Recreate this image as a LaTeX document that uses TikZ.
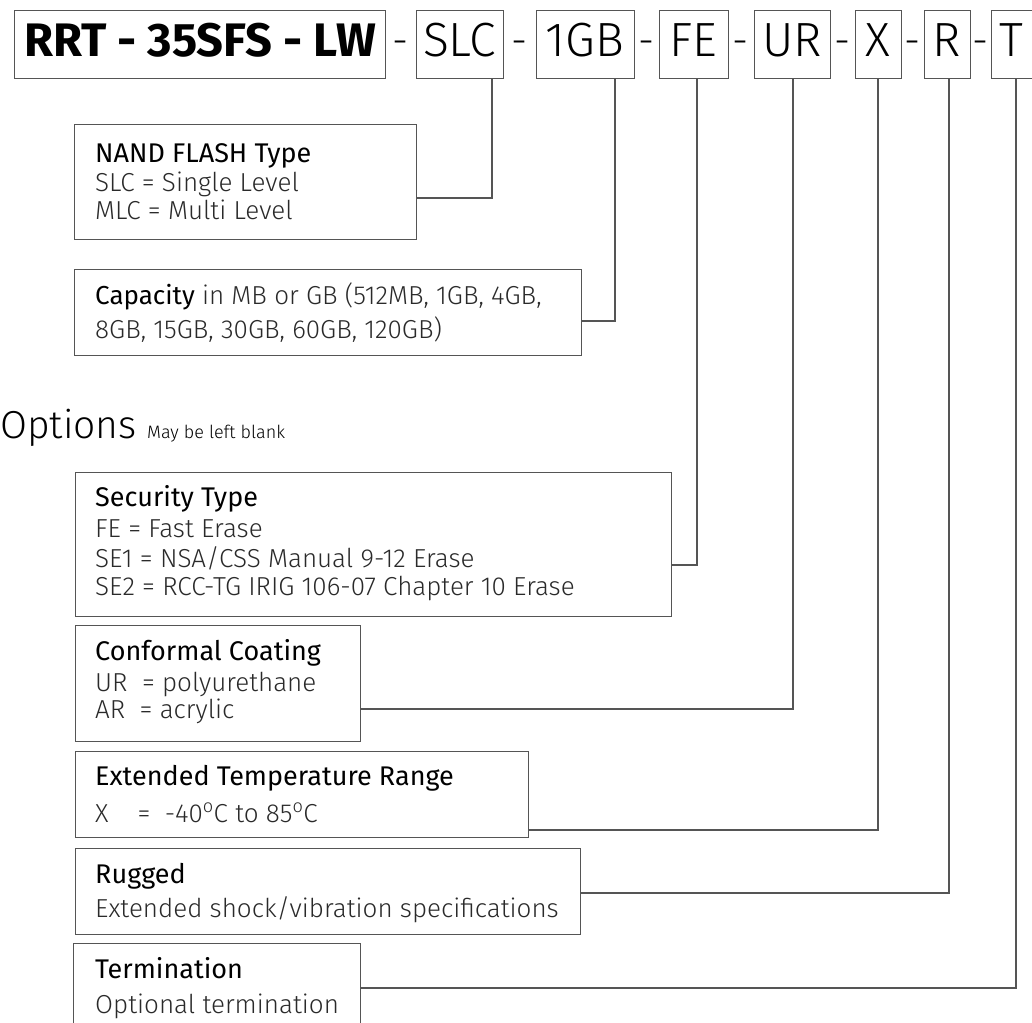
\documentclass[tikz,border=0pt]{standalone}
\usepackage{fontspec}
\setmainfont{Fira Sans}
\newfontfamily\lightf{Fira Sans Light}
\newfontfamily\boldf{Fira Sans}[UprightFont={* Bold}]
\usetikzlibrary{calc}
\definecolor{linec}{HTML}{555555}
\definecolor{bodyc}{HTML}{2A2A2A}
\tikzset{
  box/.style={draw=linec, line width=1.2pt, rectangle, inner sep=0pt, anchor=north west},
  conn/.style={draw=linec, line width=1.2pt},
  code/.style={anchor=base, inner sep=0pt, font=\lightf\fontsize{48}{48}\selectfont},
  dashlbl/.style={anchor=base, inner sep=0pt, font=\lightf\fontsize{40}{40}\selectfont},
  ttl/.style={anchor=base west, inner sep=0pt, font=\fontsize{27}{27}\selectfont},
  bdy/.style={anchor=base west, inner sep=0pt, text=bodyc, font=\lightf\fontsize{26}{26}\selectfont},
}
\begin{document}
\begin{tikzpicture}[x=1pt,y=-1pt]
\useasboundingbox[fill=white] (0,0) rectangle (1032,1022);
% top row boxes
\node[box, minimum width=371pt, minimum height=68pt] (main) at (14,10) {};
\node[box, minimum width=87pt, minimum height=68pt] (bslc) at (416,10) {};
\node[box, minimum width=98pt, minimum height=68pt] (bgb) at (536,10) {};
\node[box, minimum width=69pt, minimum height=68pt] (bfe) at (659,10) {};
\node[box, minimum width=76pt, minimum height=68pt] (bur) at (754,10) {};
\node[box, minimum width=46pt, minimum height=68pt] (bx) at (855,10) {};
\node[box, minimum width=46pt, minimum height=68pt] (br) at (924,10) {};
\node[box, minimum width=60pt, minimum height=68pt] (bt) at (991,10) {};
% top row texts
\node[anchor=base, inner sep=0pt, font=\boldf\fontsize{47}{47}\selectfont] (tmain) at (200,57) {RRT - 35SFS - LW};
\node[code] (tslc) at (459.5,57) {SLC};
\node[code] (tgb) at (585,57) {1GB};
\node[code] (tfe) at (693.5,57) {FE};
\node[code] (tur) at (792,57) {UR};
\node[code] (tx) at (878,57) {X};
\node[code] (tr) at (947,57) {R};
\node[code] (tt) at (1011,57) {T};
% dashes
\node[dashlbl] (d1) at (400.5,55) {-};
\node[dashlbl] (d2) at (519.5,55) {-};
\node[dashlbl] (d3) at (646.5,55) {-};
\node[dashlbl] (d4) at (741,55) {-};
\node[dashlbl] (d5) at (842.5,55) {-};
\node[dashlbl] (d6) at (912.5,55) {-};
\node[dashlbl] (d7) at (980.5,55) {-};
% description boxes
\node[box, minimum width=342pt, minimum height=115pt] (nand) at (74,124) {};
\node[box, minimum width=507pt, minimum height=86pt] (cap) at (74,269) {};
\node[box, minimum width=596pt, minimum height=144pt] (sec) at (75,472) {};
\node[box, minimum width=285pt, minimum height=116pt] (conf) at (75,625) {};
\node[box, minimum width=453pt, minimum height=86pt] (temp) at (75,751) {};
\node[box, minimum width=505pt, minimum height=86pt] (rug) at (75,848) {};
\node[box, minimum width=287pt, minimum height=100pt] (term) at (73,943) {};
% texts
\node[ttl] (n1) at (95,162) {NAND FLASH Type};
\node[bdy] (n2) at (95,191) {SLC = Single Level};
\node[bdy] (n3) at (95,219) {MLC = Multi Level};
\node[bdy] (c1) at (95,304) {{\normalfont\color{black}Capacity} in MB or GB (512MB, 1GB, 4GB,};
\node[bdy] (c2) at (95,338) {8GB, 15GB, 30GB, 60GB, 120GB)};
\node[anchor=base west, inner sep=0pt, font=\lightf\fontsize{39}{39}\selectfont] (opt) at (0,438) {Options};
\node[anchor=base west, inner sep=0pt, font=\lightf\fontsize{18}{18}\selectfont] (opt2) at (147,438) {May be left blank};
\node[ttl] (s1) at (95,506) {Security Type};
\node[bdy] (s2) at (95,537) {FE = Fast Erase};
\node[bdy] (s3) at (95,567) {SE1 = NSA/CSS Manual 9-12 Erase};
\node[bdy] (s4) at (95,595) {SE2 = RCC-TG IRIG 106-07 Chapter 10 Erase};
\node[ttl] (f1) at (95,660) {Conformal Coating};
\node[bdy] (f2) at (95,691) {UR\ \ = polyurethane};
\node[bdy] (f3) at (95,718) {AR\ \ = acrylic};
\node[ttl] (e1) at (95,785) {Extended Temperature Range};
\node[bdy] (e2) at (95,822) {X\ \ \ \ =\ \ -40\textsuperscript{o}C to 85\textsuperscript{o}C};
\node[ttl] (r1) at (95,883) {Rugged};
\node[bdy] (r2) at (95,917) {Extended shock/vibration specifications};
\node[ttl] (m1) at (95,978) {Termination};
\node[bdy] (m2) at (95,1013) {Optional termination};
% connectors
\coordinate (k1) at (492,198);
\coordinate (k2) at (615,321);
\coordinate (k3) at (697,565);
\coordinate (k4) at (793,709);
\coordinate (k5) at (878,830);
\coordinate (k6) at (949,893);
\coordinate (k7) at (1016,988);
\draw[conn] (bslc.south -| k1) -- (k1) -- (k1 -| nand.east);
\draw[conn] (bgb.south -| k2) -- (k2) -- (k2 -| cap.east);
\draw[conn] (bfe.south -| k3) -- (k3) -- (k3 -| sec.east);
\draw[conn] (bur.south -| k4) -- (k4) -- (k4 -| conf.east);
\draw[conn] (bx.south -| k5) -- (k5) -- (k5 -| temp.east);
\draw[conn] (br.south -| k6) -- (k6) -- (k6 -| rug.east);
\draw[conn] (bt.south -| k7) -- (k7) -- (k7 -| term.east);
\end{tikzpicture}
\end{document}
